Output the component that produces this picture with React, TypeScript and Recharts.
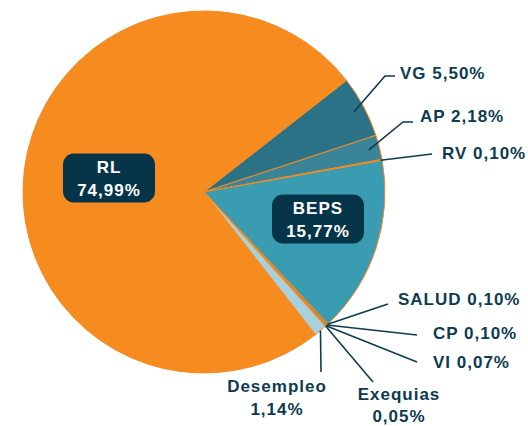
import { PieChart, Pie, Cell } from 'recharts';

const SEGMENTS = ['RL', 'VG', 'AP', 'RV', 'BEPS', 'SALUD', 'CP', 'VI', 'Exequias', 'Desempleo'];
const SHARES = [74.99, 5.5, 2.18, 0.1, 15.77, 0.1, 0.1, 0.07, 0.05, 1.14];
const COLORS = ['#F68B1F', '#2B7286', '#3A8497', '#3A8FA3', '#3A9CB0', '#2F7F93', '#2B7286', '#3A8497', '#3A9CB0', '#A8D1DB'];

// label placement, relative to the pie centre
type Place =
  | { kind: 'box'; dx: number; dy: number }
  | { kind: 'line'; r: number; elbow?: [number, number]; end: [number, number]; text: [number, number]; anchor: 'start' | 'middle'; twoLines?: boolean };

const PLACES: Record<string, Place> = {
  RL: { kind: 'box', dx: -95, dy: -14 },
  BEPS: { kind: 'box', dx: 114, dy: 27 },
  VG: { kind: 'line', r: 0.94, elbow: [181, -116], end: [191, -116], text: [196, -119], anchor: 'start' },
  AP: { kind: 'line', r: 0.94, elbow: [199, -70], end: [209, -70], text: [216, -75.5], anchor: 'start' },
  RV: { kind: 'line', r: 0.99, end: [228, -38], text: [238, -39], anchor: 'start' },
  SALUD: { kind: 'line', r: 1, end: [184, 112], text: [194, 107], anchor: 'start' },
  CP: { kind: 'line', r: 1, end: [213, 143], text: [229, 141], anchor: 'start' },
  VI: { kind: 'line', r: 1, end: [213, 170], text: [229, 170], anchor: 'start' },
  Exequias: { kind: 'line', r: 1, end: [169, 190], text: [195, 202], anchor: 'middle', twoLines: true },
  Desempleo: { kind: 'line', r: 1, end: [117, 180], text: [73, 194.5], anchor: 'middle', twoLines: true },
};

const data = SEGMENTS.map((name, i) => ({ name, value: SHARES[i] }));

const DARK = '#0D3B50';
const BOX = '#06354A';
const FONT = { fontFamily: '"Liberation Sans", Arial, sans-serif', fontWeight: 700, fontSize: 17, letterSpacing: 1 };

const fmt = (v: number) => v.toFixed(2).replace('.', ',') + '%';

const RAD = Math.PI / 180;

function renderLabel(props: any) {
  const { cx, cy, midAngle, outerRadius, index } = props;
  const name = SEGMENTS[index];
  const pct = fmt(SHARES[index]);
  const p = PLACES[name];
  if (!p) return null;

  if (p.kind === 'box') {
    const x = cx + p.dx;
    const y = cy + p.dy;
    return (
      <g>
        <rect x={x - 46} y={y - 24.5} width={92} height={49} rx={11} fill={BOX} />
        <text x={x} y={y - 10.5} textAnchor="middle" dominantBaseline="central" fill="#fff" style={FONT}>{name}</text>
        <text x={x} y={y + 12} textAnchor="middle" dominantBaseline="central" fill="#fff" style={FONT}>{pct}</text>
      </g>
    );
  }

  const sx = cx + outerRadius * p.r * Math.cos(-midAngle * RAD);
  const sy = cy + outerRadius * p.r * Math.sin(-midAngle * RAD);
  const pts = [[sx, sy]];
  if (p.elbow) pts.push([cx + p.elbow[0], cy + p.elbow[1]]);
  pts.push([cx + p.end[0], cy + p.end[1]]);
  const tx = cx + p.text[0];
  const ty = cy + p.text[1];

  return (
    <g>
      <polyline points={pts.map((q) => q.join(',')).join(' ')} fill="none" stroke={DARK} strokeWidth={1.6} />
      {p.twoLines ? (
        <>
          <text x={tx} y={ty} textAnchor={p.anchor} dominantBaseline="central" fill={DARK} style={FONT}>{name}</text>
          <text x={tx} y={ty + 22.5} textAnchor={p.anchor} dominantBaseline="central" fill={DARK} style={FONT}>{pct}</text>
        </>
      ) : (
        <text x={tx} y={ty} textAnchor={p.anchor} dominantBaseline="central" fill={DARK} style={FONT}>{`${name} ${pct}`}</text>
      )}
    </g>
  );
}

export default function App() {
  return (
    <div style={{ position: 'absolute', left: 0, top: 0, width: 528, height: 426, background: '#fff' }}>
      <PieChart width={528} height={426} margin={{ top: 0, right: 0, bottom: 0, left: 0 }}>
        <Pie
          data={data}
          dataKey="value"
          nameKey="name"
          cx={204}
          cy={192}
          outerRadius={181}
          startAngle={308}
          endAngle={-52}
          stroke="#F68B1F"
          strokeWidth={1}
          label={renderLabel}
          labelLine={false}
          isAnimationActive={false}
        >
          {data.map((entry, i) => (
            <Cell key={entry.name} fill={COLORS[i]} />
          ))}
        </Pie>
      </PieChart>
    </div>
  );
}
